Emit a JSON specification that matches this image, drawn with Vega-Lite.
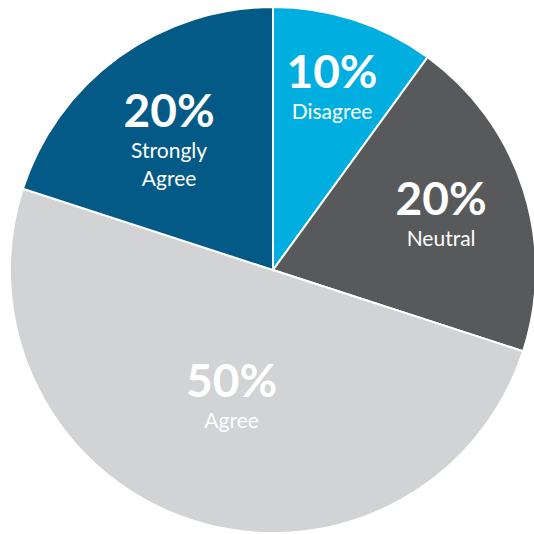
{
  "$schema": "https://vega.github.io/schema/vega-lite/v6.json",
  "width": 546,
  "height": 540,
  "padding": 0,
  "autosize": {"type": "none"},
  "background": "white",
  "config": {"view": {"stroke": null}},
  "data": {
    "values": [
      {"category": "Disagree", "label": "Disagree", "value": 10, "pct": "10%", "rank": 1},
      {"category": "Neutral", "label": "Neutral", "value": 20, "pct": "20%", "rank": 2},
      {"category": "Agree", "label": "Agree", "value": 50, "pct": "50%", "rank": 3},
      {"category": "Strongly Agree", "label": "Strongly\nAgree", "value": 20, "pct": "20%", "rank": 4}
    ]
  },
  "encoding": {
    "theta": {"field": "value", "type": "quantitative", "stack": true},
    "order": {"field": "rank", "type": "quantitative"}
  },
  "layer": [
    {
      "mark": {"type": "arc", "radius": 263, "stroke": "white", "strokeWidth": 2},
      "encoding": {
        "color": {
          "field": "category",
          "type": "nominal",
          "scale": {
            "domain": ["Disagree", "Neutral", "Agree", "Strongly Agree"],
            "range": ["#00AEDF", "#58595B", "#D1D3D4", "#035A86"]
          },
          "legend": null
        }
      }
    },
    {
      "mark": {"type": "text", "font": "Lato", "fontSize": 46, "fontWeight": "bold", "color": "white", "baseline": "alphabetic", "dy": 0},
      "encoding": {
        "text": {"field": "pct"},
        "radius": {"field": "value", "type": "quantitative", "scale": {"type": "linear", "zero": false, "domain": [10, 50], "range": [191, 134]}}
      }
    },
    {
      "mark": {"type": "text", "font": "Lato", "fontSize": 21, "letterSpacing": 0.8, "color": "white", "baseline": "top", "dy": 14, "lineBreak": "\n", "lineHeight": 28},
      "encoding": {
        "text": {"field": "label"},
        "radius": {"field": "value", "type": "quantitative", "scale": {"type": "linear", "zero": false, "domain": [10, 50], "range": [191, 134]}}
      }
    }
  ]
}
